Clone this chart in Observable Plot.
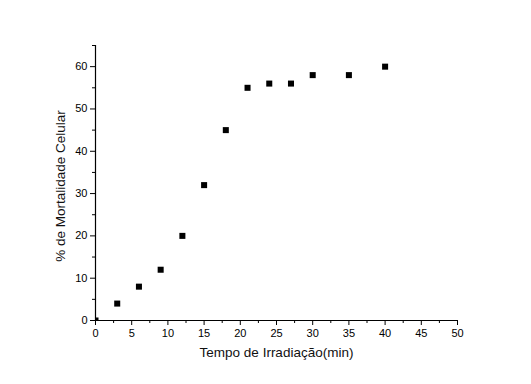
<!DOCTYPE html>
<html>
<head>
<meta charset="utf-8">
<script src="https://cdn.jsdelivr.net/npm/d3@7"></script>
<script src="https://cdn.jsdelivr.net/npm/@observablehq/plot@0.6"></script>
<style>
  html, body { margin: 0; padding: 0; background: #fff; }
  svg { display: block; }
</style>
</head>
<body>
<div id="chart"></div>
<script>
const tempo = [0, 3, 6, 9, 12, 15, 18, 21, 24, 27, 30, 35, 40];
const mortalidade = [0, 4, 8, 12, 20, 32, 45, 55, 56, 56, 58, 58, 60];
const xMajorTicks = [0, 5, 10, 15, 20, 25, 30, 35, 40, 45, 50];
const xMinorTicks = [2.5, 7.5, 12.5, 17.5, 22.5, 27.5, 32.5, 37.5, 42.5, 47.5];
const yMajorTicks = [0, 10, 20, 30, 40, 50, 60];
const yMinorTicks = [5, 15, 25, 35, 45, 55, 65];
const xLabel = "Tempo de Irradiação(min)";
const yLabel = "% de Mortalidade Celular";

const data = tempo.map((t, i) => ({t, m: mortalidade[i]}));

const chart = Plot.plot({
  width: 531,
  height: 384,
  marginLeft: 95,
  marginRight: 74,
  marginTop: 45,
  marginBottom: 64,
  style: {fontFamily: "'Liberation Sans', Arial, sans-serif", fontSize: "11px", color: "#000", background: "#fff"},
  x: {domain: [0, 50]},
  y: {domain: [0, 65]},
  marks: [
    Plot.axisX(xMinorTicks, {tickSize: 3, text: null, label: null, strokeWidth: 1}),
    Plot.axisX(xMajorTicks, {tickSize: 5, tickPadding: 4, label: null, fontSize: 11, strokeWidth: 1}),
    Plot.axisY(yMinorTicks, {tickSize: 3, text: null, label: null, strokeWidth: 1}),
    Plot.axisY(yMajorTicks, {tickSize: 5, tickPadding: 3, label: null, fontSize: 11, strokeWidth: 1}),
    Plot.ruleY([0], {stroke: "#000", strokeWidth: 1.2}),
    Plot.ruleX([0], {stroke: "#000", strokeWidth: 1.2}),
    Plot.dot(data, {x: "t", y: "m", symbol: "square", r: 3.4, fill: "#000", stroke: "none", clip: true}),
    Plot.text([xLabel], {frameAnchor: "bottom", dy: 36, fontSize: 13.5, fill: "#111"}),
    Plot.text([yLabel], {frameAnchor: "left", textAnchor: "middle", dx: -35, dy: 3, rotate: -90, fontSize: 13.5, fill: "#111"})
  ]
});
document.getElementById("chart").appendChild(chart);
</script>
</body>
</html>
